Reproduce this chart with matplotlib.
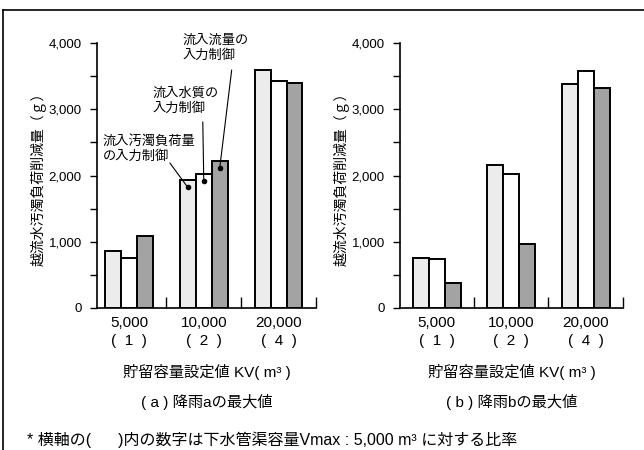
import matplotlib
matplotlib.use("Agg")
import matplotlib.pyplot as plt
from matplotlib.lines import Line2D
import numpy as np

plt.rcParams['font.family'] = ['Liberation Sans', 'Noto Sans CJK JP', 'DejaVu Sans']

categories = ["5,000\n(  1  )", "10,000\n(  2  )", "20,000\n(  4  )"]
series_names = ["流入汚濁負荷量の入力制御", "流入水質の入力制御", "流入流量の入力制御"]
# rain a
a_load = [860, 1930, 3590]
a_quality = [760, 2030, 3420]
a_flow = [1090, 2220, 3390]
# rain b
b_load = [760, 2160, 3380]
b_quality = [740, 2030, 3570]
b_flow = [380, 960, 3320]

colors = ["#ececec", "#ffffff", "#a3a3a3"]
W, H = 644, 450
fig = plt.figure(figsize=(W / 100, H / 100), dpi=100)

def px_axes(x0, x1, y0, y1):
    return fig.add_axes([x0 / W, 1 - y1 / H, (x1 - x0) / W, (y1 - y0) / H])

ax1 = px_axes(97, 316, 43, 308)
ax2 = px_axes(400, 623, 43, 308)

bw = 0.213
fs_y = 9.5
fs_x = 11
fs_lab = 10

def draw(ax, series, xlim, title):
    x = np.arange(len(categories))
    for i, vals in enumerate(series):
        ax.bar(x + (i - 1) * bw, vals, width=bw, color=colors[i], edgecolor='black',
               linewidth=1.4, zorder=3)
    ax.set_xlim(*xlim)
    ax.set_ylim(0, 4000)
    for s in ['top', 'right']:
        ax.spines[s].set_visible(False)
    for s in ['left', 'bottom']:
        ax.spines[s].set_linewidth(1.2)
    ax.set_yticks([0, 1000, 2000, 3000, 4000])
    ax.set_yticklabels(["0", "1,000", "2,000", "3,000", "4,000"], fontsize=fs_y)
    ax.set_yticks([500, 1500, 2500, 3500], minor=True)
    ax.tick_params(axis='y', which='both', direction='out', length=5, width=1.0, pad=6)
    ax.set_xticks(x)
    ax.set_xticklabels(categories, fontsize=fs_x, linespacing=1.3)
    ax.set_xticks([0.5, 1.5, 2.5], minor=True)
    ax.tick_params(axis='x', which='major', length=0, pad=6)
    ax.tick_params(axis='x', which='minor', direction='in', length=8, width=1.0)
    ax.set_ylabel("越流水汚濁負荷削減量（ｇ）", fontsize=fs_lab, labelpad=2)
    ax.text(0.5, -0.2415, "貯留容量設定値 KV( m³ )", transform=ax.transAxes,
            ha='center', va='center', fontsize=fs_x)
    ax.text(0.5, -0.355, title, transform=ax.transAxes, ha='center', va='center',
            fontsize=fs_x)

draw(ax1, [a_load, a_quality, a_flow], (-0.427, 2.5), "( a ) 降雨aの最大値")
draw(ax2, [b_load, b_quality, b_flow], (-0.493, 2.49), "( b ) 降雨bの最大値")

# annotations on left chart (group 2)
labels = ["流入汚濁負荷量\nの入力制御", "流入水質の\n入力制御", "流入流量の\n入力制御"]
text_pos = [(-0.347, 2611), (0.32, 3321), (0.72, 4121)]
line_start = [(0.547, 2189), (0.987, 2808), (1.373, 3592)]
group_vals = [a_load[1], a_quality[1], a_flow[1]]
for i in range(3):
    dx = 1 + (i - 1) * bw
    dy = group_vals[i] - 110
    ax1.text(*text_pos[i], labels[i], ha='left', va='top', fontsize=9.5,
             linespacing=1.25, clip_on=False, zorder=5)
    ax1.annotate('', xy=(dx, dy), xytext=line_start[i],
                 arrowprops=dict(arrowstyle='-', lw=0.8, color='black',
                                 shrinkA=0, shrinkB=0), zorder=5)
    ax1.plot(dx, dy, 'o', ms=3, color='black', zorder=6)

fig.text(27 / W, 1 - 440 / H, "* 横軸の(      )内の数字は下水管渠容量Vmax : 5,000 m³ に対する比率",
         ha='left', va='center', fontsize=11.5)

# outer frame
fig.add_artist(Line2D([3 / W, 1.0], [1 - 10 / H, 1 - 10 / H], transform=fig.transFigure,
                      color='black', lw=1.2))
fig.add_artist(Line2D([3 / W, 3 / W], [1 - 10 / H, 0], transform=fig.transFigure,
                      color='black', lw=1.2))

fig.savefig("out.png", dpi=100)
